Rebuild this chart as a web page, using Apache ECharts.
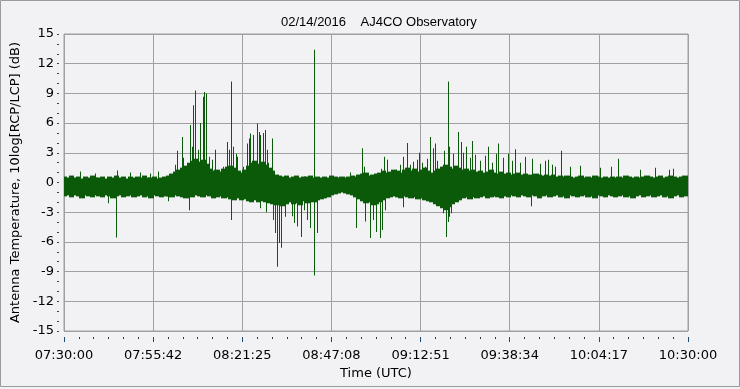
<!DOCTYPE html>
<html><head><meta charset="utf-8">
<script src="https://cdn.jsdelivr.net/npm/echarts@6/dist/echarts.min.js"></script>
<style>html,body{margin:0;padding:0;background:#f2f2f4;}#c{width:740px;height:389px;}</style>
</head><body><div id="c"></div>
<script>
const chartTitle = '02/14/2016    AJ4CO Observatory';
const xAxisName = 'Time (UTC)';
const yAxisName = 'Antenna Temperature, 10log[RCP/LCP] (dB)';
const startClockSec = 7 * 3600 + 30 * 60;   // 07:30:00
const spanMin = 180;                         // 07:30 -> 10:30
const xTickDivisions = 7;
const yMin = -15, yMax = 15, yStep = 3;

// noise band envelope, one sample per minute from 07:30 (dB)
const bandHi = [
0.6,0.5,0.7,0.5,0.6,0.4,0.6,0.5,0.7,0.5,
0.5,0.6,0.4,0.6,0.5,0.7,0.5,0.6,0.4,0.6,
0.5,0.6,0.5,0.7,0.5,0.5,0.6,0.4,0.5,0.6,
0.7,0.9,1.1,1.3,1.5,1.7,2.0,2.2,2.4,2.1,
2.3,1.9,1.4,1.2,1.3,1.1,1.4,1.6,1.7,1.5,
1.2,1.0,1.3,1.7,2.0,2.2,1.9,2.1,1.8,1.5,
1.2,0.8,0.7,0.6,0.7,0.5,0.6,0.7,0.5,0.6,
0.6,0.7,0.5,0.6,0.5,0.6,0.5,0.7,0.6,0.5,
0.6,0.5,0.6,0.7,0.6,0.8,0.9,1.0,0.7,0.8,
0.9,1.0,1.2,1.0,1.1,1.3,1.2,1.0,1.3,1.5,
1.2,1.4,1.1,1.3,1.5,1.2,1.0,1.2,1.4,1.6,
1.8,1.6,1.4,1.7,1.5,1.3,1.4,1.2,1.3,1.1,
1.2,1.0,1.1,1.3,1.0,0.9,1.1,0.9,1.0,0.8,
0.9,1.0,0.8,0.9,0.8,0.7,0.9,0.8,0.7,0.8,
0.7,0.8,0.6,0.7,0.6,0.7,0.6,0.5,0.6,0.7,
0.5,0.6,0.5,0.7,0.6,0.5,0.6,0.5,0.6,0.5,
0.6,0.5,0.7,0.6,0.5,0.6,0.5,0.6,0.7,0.6,
0.5,0.6,0.7,0.5,0.6,0.7,0.6,0.5,0.6,0.7,0.6];
const bandLo = [
-1.4,-1.3,-1.5,-1.3,-1.4,-1.6,-1.3,-1.4,-1.5,-1.3,
-1.4,-1.5,-1.3,-1.4,-1.6,-1.4,-1.3,-1.5,-1.4,-1.3,
-1.5,-1.4,-1.3,-1.5,-1.4,-1.6,-1.3,-1.4,-1.5,-1.4,
-1.4,-1.5,-1.3,-1.4,-1.5,-1.6,-1.4,-1.5,-1.3,-1.4,
-1.5,-1.3,-1.4,-1.6,-1.5,-1.4,-1.6,-1.5,-1.7,-1.8,
-1.6,-1.8,-1.7,-1.9,-2.0,-1.8,-2.0,-1.9,-2.0,-2.1,
-2.2,-2.3,-2.1,-2.4,-2.2,-2.0,-2.2,-2.1,-2.3,-1.9,
-2.1,-1.9,-2.0,-1.8,-1.7,-1.6,-1.5,-1.3,-1.2,-1.1,
-1.0,-1.1,-1.2,-1.3,-1.5,-1.7,-1.9,-2.1,-2.0,-2.3,
-2.2,-2.0,-1.8,-1.6,-1.5,-1.4,-1.5,-1.6,-1.4,-1.5,
-1.6,-1.5,-1.7,-1.6,-1.8,-1.9,-2.0,-2.2,-2.4,-2.6,
-2.8,-2.5,-2.2,-2.0,-1.8,-1.6,-1.5,-1.7,-1.5,-1.6,
-1.5,-1.4,-1.6,-1.5,-1.4,-1.5,-1.6,-1.4,-1.5,-1.3,
-1.4,-1.5,-1.3,-1.4,-1.5,-1.3,-1.4,-1.6,-1.4,-1.3,
-1.5,-1.4,-1.3,-1.5,-1.4,-1.6,-1.3,-1.4,-1.5,-1.4,
-1.3,-1.5,-1.4,-1.6,-1.3,-1.4,-1.5,-1.3,-1.4,-1.5,
-1.4,-1.3,-1.5,-1.4,-1.6,-1.4,-1.3,-1.5,-1.4,-1.3,
-1.5,-1.4,-1.3,-1.5,-1.4,-1.6,-1.4,-1.3,-1.5,-1.4,-1.3];

// individual bursts: minutes after 07:30 and peak (dB)
const spikeUpMin = [4.6,8.9,15.3,18.9,21.9,24.8,27.1,
31.9,32.7,33.9,34.4,36.3,36.8,37.3,37.9,38.6,39.2,40.0,40.3,40.9,41.1,41.9,42.6,43.5,45.8,46.9,47.6,48.2,48.8,49.6,50.0,51.7,52.9,53.4,53.6,54.4,54.6,55.6,56.3,56.5,57.3,58.0,58.6,58.9,60.1,
72.2,82.5,86.0,86.5,91.3,92.4,93.2,95.9,96.9,97.8,98.8,99.8,100.6,101.7,102.5,103.2,104.1,104.7,105.7,106.5,106.9,107.6,108.9,109.6,110.9,111.2,112.3,113.6,114.6,115.2,116.0,117.1,117.7,118.7,120.0,121.4,122.3,123.4,124.7,125.2,126.6,128.0,129.2,130.2,131.5,132.9,134.9,137.3,138.7,139.7,140.7,141.7,143.5,145.9,148.8,154.6,157.9,159.8,166.1,170.4,174.4,175.6];
const spikeUpDb = [1.1,0.9,1.2,1.0,1.0,0.9,1.1,
1.8,3.2,4.6,2.5,5.8,3.6,7.8,9.3,3.3,6.0,8.65,9.15,9.0,6.6,2.6,2.3,3.3,1.6,4.1,3.3,10.2,3.6,2.9,2.6,1.6,3.95,4.45,4.95,4.45,4.8,5.97,5.1,4.8,5.0,5.3,3.3,2.0,4.45,
13.4,1.0,3.45,1.6,1.4,2.6,2.3,1.3,1.8,2.6,4.0,1.8,2.1,2.3,3.0,2.0,1.6,2.4,4.6,3.45,3.95,2.2,1.6,3.2,10.2,3.6,2.9,5.1,4.1,3.0,3.6,2.5,4.2,2.8,2.2,2.7,3.6,2.0,2.9,3.95,2.5,2.9,2.2,3.35,2.0,2.6,2.4,1.9,2.2,2.3,1.8,1.6,3.2,1.6,1.7,1.5,1.6,2.4,1.3,1.5,1.3,1.4];
const spikeDownMin = [12.6,15.1,30.0,36.1,48.3,56.5,58.2,60.2,60.8,61.5,62.1,62.7,63.7,65.7,66.4,67.3,68.5,69.3,70.2,70.9,72.2,73.0,84.2,86.8,88.2,89.0,90.1,91.1,91.6,92.6,97.7,109.3,110.2,110.8,111.2,111.7,134.8];
const spikeDownDb = [-2.1,-5.56,-1.9,-2.8,-3.8,-2.6,-3.0,-3.8,-5.1,-8.5,-6.1,-6.6,-3.45,-3.4,-4.1,-4.45,-5.5,-2.8,-3.8,-4.6,-9.4,-5.1,-4.6,-3.95,-5.6,-3.8,-5.0,-5.6,-4.8,-2.8,-2.5,-3.1,-5.5,-4.0,-3.45,-3.1,-2.4];

const lineColor = '#0a5a0a';
const axisFont = 'DejaVu Sans';

const bandData = bandHi.map((h, i) => [i, h, bandLo[i]]);
const spikeData = spikeUpMin.map((t, i) => [t, spikeUpDb[i]])
  .concat(spikeDownMin.map((t, i) => [t, spikeDownDb[i]]));

function pad(n) { return (n < 10 ? '0' : '') + n; }
function clock(idx) {
  const s = Math.floor(startClockSec + idx * spanMin * 60 / xTickDivisions + 1e-6);
  return pad(Math.floor(s / 3600)) + ':' + pad(Math.floor(s % 3600 / 60)) + ':' + pad(s % 60);
}

const chart = echarts.init(document.getElementById('c'), null, {renderer: 'canvas'});
chart.setOption({
  backgroundColor: '#f2f2f4',
  animation: false,
  title: {text: chartTitle, left: 276, top: 11,
    textStyle: {fontFamily: 'Liberation Sans', fontSize: 13, fontWeight: 'normal', color: '#000'}},
  graphic: [{type: 'rect', shape: {x: 0.5, y: 0.5, width: 739, height: 386},
    style: {fill: 'none', stroke: '#9a9a9a', lineWidth: 1}, silent: true}],
  grid: {left: 64, top: 34, width: 624, height: 297, show: true, borderColor: '#a0a0a0', borderWidth: 1},
  xAxis: {
    type: 'value', min: 0, max: spanMin, interval: spanMin / xTickDivisions, offset: 6,
    axisLine: {show: true, onZero: false, lineStyle: {color: 'rgba(0,0,0,0)'}},
    axisTick: {show: true, length: 5, lineStyle: {color: '#1f4a70'}},
    minorTick: {show: true, splitNumber: 6, length: 2, lineStyle: {color: '#333'}},
    splitLine: {show: true, lineStyle: {color: '#a0a0a0'}},
    axisLabel: {margin: 12, fontFamily: axisFont, fontSize: 13, color: '#000',
      formatter: (v) => clock(Math.round(v * xTickDivisions / spanMin))},
    name: xAxisName, nameLocation: 'middle', nameGap: 27,
    nameTextStyle: {fontFamily: axisFont, fontSize: 13, color: '#000'}
  },
  yAxis: {
    type: 'value', min: yMin, max: yMax, interval: yStep, offset: 5,
    axisLine: {show: true, onZero: false, lineStyle: {color: 'rgba(0,0,0,0)'}},
    axisTick: {show: true, length: 2, lineStyle: {color: '#444'}},
    minorTick: {show: true, splitNumber: 3, length: 2, lineStyle: {color: '#444'}},
    splitLine: {show: true, lineStyle: {color: '#a0a0a0'}},
    axisLabel: {margin: 5, fontFamily: axisFont, fontSize: 13, color: '#000'},
    name: yAxisName, nameLocation: 'middle', nameGap: 27,
    nameTextStyle: {fontFamily: axisFont, fontSize: 13, color: '#000'}
  },
  series: [
    {type: 'custom', clip: true, data: bandData,
      renderItem: (params, api) => {
        const t = api.value(0);
        const a = api.coord([t - 0.5, api.value(1)]);
        const b = api.coord([t + 0.5, api.value(2)]);
        const x0 = Math.floor(a[0]);
        return {type: 'rect', shape: {x: x0, y: a[1], width: Math.ceil(b[0]) - x0 + 1, height: b[1] - a[1]},
          style: {fill: lineColor}};
      }},
    {type: 'custom', clip: true, data: spikeData,
      renderItem: (params, api) => {
        const p = api.coord([api.value(0), api.value(1)]);
        const z = api.coord([api.value(0), 0]);
        const x = Math.round(p[0]);
        return {type: 'rect', shape: {x: x, y: Math.min(p[1], z[1]), width: 1, height: Math.abs(z[1] - p[1])},
          style: {fill: lineColor}};
      }}
  ]
});
</script></body></html>
